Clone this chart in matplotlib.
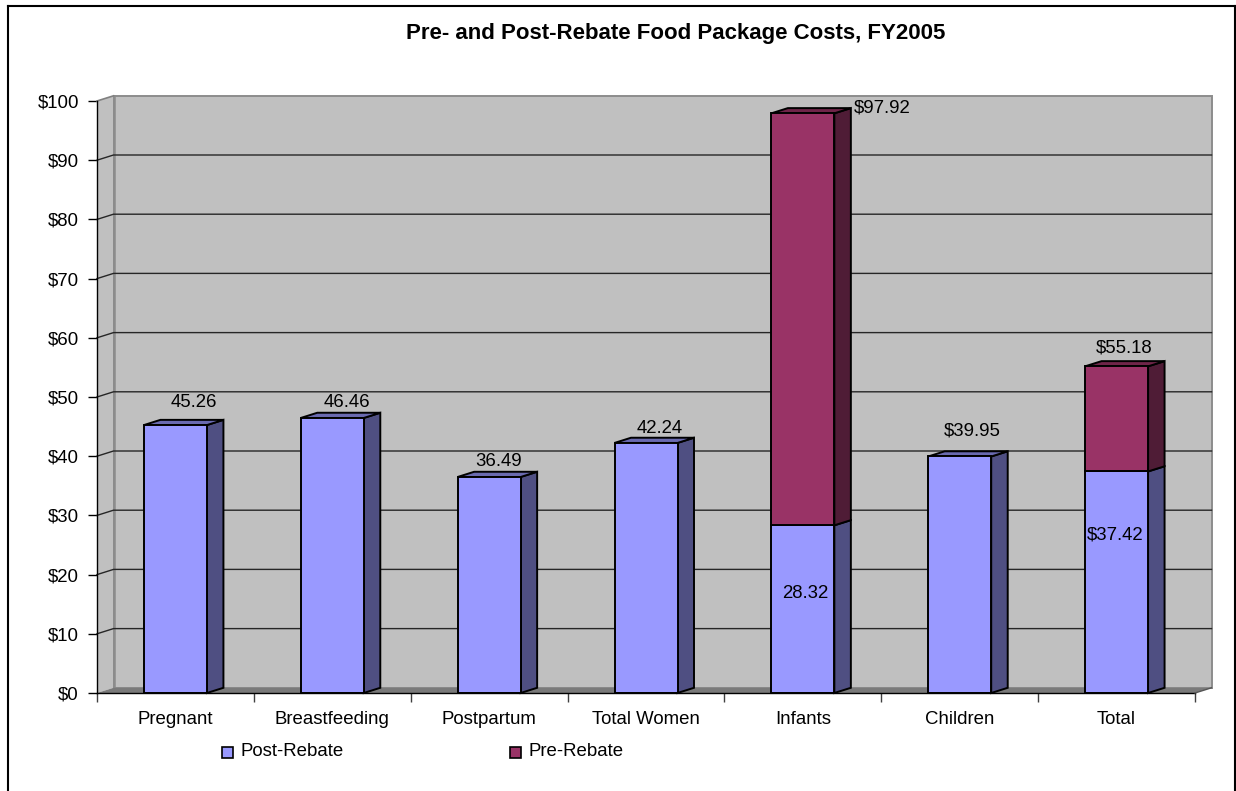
import matplotlib
matplotlib.use("Agg")
import matplotlib.pyplot as plt
from matplotlib.patches import Polygon, Rectangle
from matplotlib.lines import Line2D

categories = ["Pregnant", "Breastfeeding", "Postpartum", "Total Women", "Infants", "Children", "Total"]
post_rebate = [45.26, 46.46, 36.49, 42.24, 28.32, 39.95, 37.42]
pre_total = [None, None, None, None, 97.92, None, 55.18]
labels = ["45.26", "46.46", "36.49", "42.24", "$97.92", "$39.95", "$55.18"]
inner_labels = {4: "28.32", 6: "$37.42"}
y_ticks = list(range(0, 101, 10))

W, H = 1236, 791
L, R, T, B = 97, 1195, 101, 693
FS = 13.4
plt.rcParams["font.family"] = ["Liberation Sans", "DejaVu Sans"]
fig = plt.figure(figsize=(W / 100, H / 100), dpi=100)
ax = fig.add_axes([L / W, 1 - B / H, (R - L) / W, (B - T) / H])
n = len(categories)
ax.set_xlim(0, n)
ax.set_ylim(0, 100)
ax.patch.set_visible(False)
for s in ["top", "right", "bottom"]:
    ax.spines[s].set_visible(False)
ax.spines["left"].set_color("black")
ax.spines["left"].set_linewidth(1)

px = (R - L) / n
py = (B - T) / 100
dx = 16.5 / px
dy = 5.2 / py
bw = 63 / px
kw = dict(clip_on=False)
wall = "#c0c0c0"

ax.add_patch(Polygon([(0, 0), (dx, dy), (dx, 100 + dy), (0, 100)], fc=wall, ec="none", zorder=1, **kw))
ax.add_patch(Rectangle((dx, dy), n, 100, fc=wall, ec="#8c8c8c", lw=1.4, zorder=1, **kw))
ax.plot([dx, dx], [dy, 100 + dy], color="#8c8c8c", lw=1.8, zorder=1.2, **kw)
ax.add_patch(Polygon([(0, 0), (dx, dy), (n + dx, dy), (n, 0)], fc="#7a7a7a", ec="none", zorder=1.5, **kw))

for v in y_ticks[1:-1]:
    ax.plot([0, dx, n + dx], [v, v + dy, v + dy], color="#262626", lw=1, zorder=2, **kw)
ax.plot([0, dx], [100, 100 + dy], color="#808080", lw=1.2, zorder=2, **kw)

front_post = "#9999ff"
side_post = "#4f4f82"
top_post = "#6a6ab0"
front_pre = "#993366"
side_pre = "#4f1c36"
top_pre = "#6f2549"


def box(x0, y0, y1, front, side, top=None):
    x1 = x0 + bw
    lw = 1.4
    ax.add_patch(Polygon([(x1, y0), (x1 + dx, y0 + dy), (x1 + dx, y1 + dy), (x1, y1)],
                         fc=side, ec="black", lw=lw, zorder=3, **kw))
    if top:
        ax.add_patch(Polygon([(x0, y1), (x0 + dx, y1 + dy), (x1 + dx, y1 + dy), (x1, y1)],
                             fc=top, ec="black", lw=lw, zorder=3, **kw))
    ax.add_patch(Rectangle((x0, y0), bw, y1 - y0, fc=front, ec="black", lw=lw, zorder=4, **kw))


label_offsets = {0: (0.115, 3.84), 1: (0.095, 2.66), 2: (0.058, 2.63), 3: (0.09, 2.46),
                 4: (0.508, 0.95), 5: (0.08, 4.34), 6: (0.05, 3.16)}
inner_offsets = {4: (0.013, 2.64), 6: (-0.006, 8.04)}
for i, v in enumerate(post_rebate):
    x0 = i + 0.5 - bw / 2
    has_pre = pre_total[i] is not None
    box(x0, 0, v, front_post, side_post, None if has_pre else top_post)
    top_val = v
    if has_pre:
        box(x0, v, pre_total[i], front_pre, side_pre, top_pre)
        top_val = pre_total[i]
    ox, oy = label_offsets[i]
    ax.text(i + 0.5 + ox, top_val + oy, labels[i], ha="center", va="center", fontsize=FS, color="black", zorder=6)
    if i in inner_labels:
        ix, iy = inner_offsets[i]
        ax.text(i + 0.5 + ix, v / 2 + iy, inner_labels[i], ha="center", va="center",
                fontsize=FS, color="black", zorder=6)

ax.set_yticks(y_ticks)
ax.set_yticklabels([f"${v}" for v in y_ticks], fontsize=FS)
ax.tick_params(axis="y", length=6.5, width=1, pad=6.5, color="black")
ax.set_xticks(range(n + 1))
ax.set_xticklabels([])
ax.tick_params(axis="x", length=6.5, width=1, color="#404040")
for i, c in enumerate(categories):
    ax.annotate(c, xy=(i + 0.5, 0), xytext=(0, -27), textcoords="offset pixels", ha="center", va="center",
                fontsize=FS, annotation_clip=False)
ax.plot([0, n], [0, 0], color="black", lw=1, zorder=5, **kw)
ax.plot([n, n + dx], [0, dy], color="#555555", lw=1, zorder=5, **kw)

fig.text(676 / W, 1 - 33 / H, "Pre- and Post-Rebate Food Package Costs, FY2005", ha="center", va="center",
         fontsize=16, fontweight="bold")

for sx, name, color, tx in [(222, "Post-Rebate", front_post, 240), (510, "Pre-Rebate", front_pre, 528)]:
    fig.add_artist(Rectangle((sx / W, 1 - 758 / H), 11 / W, 11 / H, transform=fig.transFigure,
                             fc=color, ec="black", lw=1.2))
    fig.text(tx / W, 1 - 752 / H, name, ha="left", va="center", fontsize=FS)

for xs, ys in [((7.5, 7.5), (5.5, 791)), ((7.5, 1234.5), (5.5, 5.5)), ((1234.5, 1234.5), (5.5, 791))]:
    fig.add_artist(Line2D([x / W for x in xs], [1 - y / H for y in ys], transform=fig.transFigure,
                          color="black", lw=1.5))
fig.savefig("out.png", dpi=100)
